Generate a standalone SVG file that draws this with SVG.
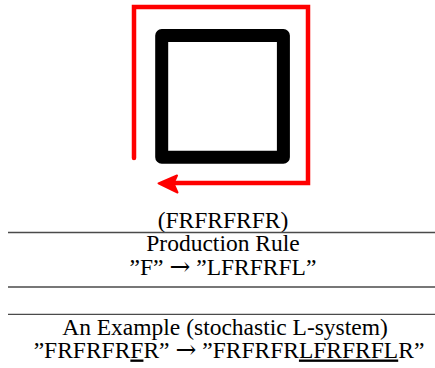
<svg xmlns="http://www.w3.org/2000/svg" width="435" height="368" viewBox="0 0 435 368">
<style>
.t{font-family:"Liberation Serif","Times New Roman",serif;font-size:23.5px;fill:#000;text-anchor:middle}
.rule{stroke:#4a4a4a;stroke-width:1.3}
.u{text-decoration:underline}
.ar{font-family:"DejaVu Serif",serif;font-size:25px}
</style>
<rect width="435" height="368" fill="#fff"/>
<g id="figure">
<rect id="square" x="161.7" y="35.5" width="121.7" height="121.7" fill="none" stroke="#000" stroke-width="13" stroke-linejoin="round"/>
<g id="connectors">
<path d="M134,158 V7 H308 V183 H172" fill="none" stroke="#ff0000" stroke-width="4.5" stroke-linecap="round" stroke-linejoin="miter"/>
<path d="M158.5,183.3 L177,175.5 L173.5,183.3 L177.5,192.5 Z" fill="#ff0000" stroke="#ff0000" stroke-width="2" stroke-linejoin="round"/>
</g>
</g>
<g id="table">
<text class="t" x="223" y="228">(FRFRFRFR)</text>
<line class="rule" x1="8" y1="232.5" x2="435" y2="232.5"/>
<text class="t" x="223" y="251">Production Rule</text>
<text class="t" x="223" y="275">”F” <tspan class="ar">→</tspan> ”LFRFRFL”</text>
<line class="rule" x1="8" y1="287" x2="435" y2="287"/>
<line class="rule" x1="8" y1="314.3" x2="435" y2="314.3"/>
<text class="t" x="225" y="335">An Example (stochastic L-system)</text>
<text class="t" x="229" y="357.5">”FRFRFR<tspan class="u">F</tspan>R” <tspan class="ar">→</tspan> ”FRFRFR<tspan class="u">LFRFRFL</tspan>R”</text>
</g>
</svg>
